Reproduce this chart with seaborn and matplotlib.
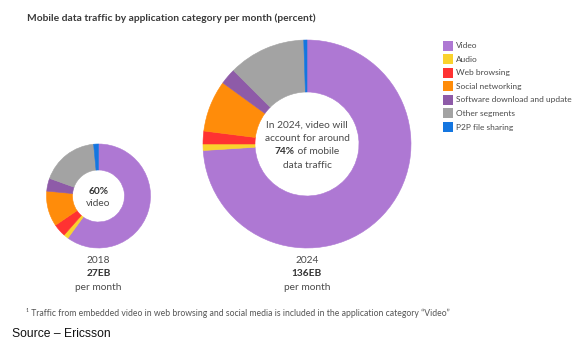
import matplotlib
matplotlib.use("Agg")
import matplotlib.pyplot as plt
import seaborn as sns
from matplotlib.patches import Rectangle

categories = ["Video", "Audio", "Web browsing", "Social networking",
              "Software download and update", "Other segments", "P2P file sharing"]
share_2018 = [60, 1.5, 4, 11, 4, 18, 1.5]
share_2024 = [74, 1, 2, 8, 2.5, 12, 0.5]
years = ["2018", "2024"]
volumes = ["27EB", "136EB"]
colors = ["#AE78D3", "#FAD22D", "#FF3232", "#FF8C0A", "#8E5BA8", "#A3A3A3", "#1476E0"]

sns.set_theme(style="white")
plt.rcParams["font.family"] = ["Lato", "DejaVu Sans"]
palette = sns.color_palette(colors)

W, H = 584, 350
fig = plt.figure(figsize=(W / 100, H / 100), dpi=100)
fig.patch.set_facecolor("white")


def P(x, y):
    return x / W, 1 - y / H


def donut(cx, cy, R, values):
    ax = fig.add_axes([(cx - R) / W, 1 - (cy + R) / H, 2 * R / W, 2 * R / H])
    ax.pie(values, colors=palette, startangle=90, counterclock=False,
           wedgeprops=dict(width=0.5, linewidth=0.4, edgecolor="white"))
    for w, c in zip(ax.patches, palette):
        w.set_edgecolor(c)
    ax.set_xlim(-1, 1)
    ax.set_ylim(-1, 1)
    ax.set_axis_off()
    return ax


donut(98.5, 196, 52, share_2018)
donut(307, 144, 104, share_2024)

txt = "#4a4a4a"
fs = 7.3
fig.text(*P(27, 18), "Mobile data traffic by application category per month (percent)",
         fontsize=7.4, fontweight="bold", color="#3a3a3a", va="center", ha="left")

# centre texts
fig.text(*P(98.5, 192), "60%", fontsize=fs, fontweight="bold", color="#333333",
         ha="center", va="center")
fig.text(*P(98.5, 204), "video", fontsize=fs, color=txt, ha="center", va="center")

fig.text(*P(307, 125), "In 2024, video will", fontsize=fs, color=txt, ha="center", va="center")
fig.text(*P(307, 138.5), "account for around", fontsize=fs, color=txt, ha="center", va="center")
fig.text(*P(307, 165), "data traffic", fontsize=fs, color=txt, ha="center", va="center")
fig.canvas.draw()
r = fig.canvas.get_renderer()
t1 = fig.text(0, 0, "74%", fontsize=fs, fontweight="bold", color="#333333", va="center")
t2 = fig.text(0, 0, " of mobile", fontsize=fs, color=txt, va="center")
w1 = t1.get_window_extent(r).width
w2 = t2.get_window_extent(r).width
x0 = 307 - (w1 + w2) / 2
t1.set_position(P(x0, 152))
t2.set_position(P(x0 + w1, 152))

# labels under donuts
for cx, yr, vol in [(98.5, years[0], volumes[0]), (307, years[1], volumes[1])]:
    fig.text(*P(cx, 260.5), yr, fontsize=fs, color=txt, ha="center", va="center")
    fig.text(*P(cx, 273.5), vol, fontsize=fs, fontweight="bold", color="#333333",
             ha="center", va="center")
    fig.text(*P(cx, 287.5), "per month", fontsize=fs, color=txt, ha="center", va="center")

# legend
y0, dy = 45.5, 13.6
for i, (name, c) in enumerate(zip(categories, palette)):
    y = y0 + i * dy
    fig.patches.append(Rectangle(P(443, y + 5), 10 / W, 10 / H, facecolor=c,
                                 edgecolor="none", transform=fig.transFigure, figure=fig))
    fig.text(*P(456, y), name, fontsize=6, color=txt, ha="left", va="center")

fig.text(*P(26, 313), "\u00b9 Traffic from embedded video in web browsing and social media is included in the application category \u201cVideo\u201d",
         fontsize=6.2, color="#555555", ha="left", va="center")
fig.text(*P(12, 334), "Source \u2013 Ericsson", fontsize=8.7, color="#111111",
         family="Liberation Sans", ha="left", va="center")

fig.savefig("out.png", dpi=100, facecolor="white")
